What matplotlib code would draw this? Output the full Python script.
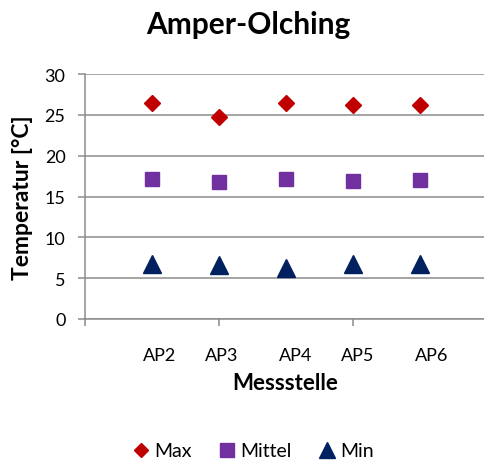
import matplotlib
matplotlib.use("Agg")
import matplotlib.pyplot as plt

plt.rcParams['font.family'] = ['Lato', 'DejaVu Sans']

categories = ["AP2", "AP3", "AP4", "AP5", "AP6"]
x_pos = [1, 2, 3, 4, 5]
label_pos = [1.12, 2.04, 3.15, 4.07, 5.18]
max_vals = [26.4, 24.7, 26.4, 26.2, 26.2]
mittel_vals = [17.2, 16.8, 17.1, 16.9, 17.0]
min_vals = [6.7, 6.6, 6.3, 6.7, 6.7]
y_ticks = [0, 5, 10, 15, 20, 25, 30]

W, H = 485, 464
fig = plt.figure(figsize=(W / 100, H / 100), dpi=100)
ax = fig.add_axes([85 / W, 1 - 320 / H, (487 - 85) / W, (320 - 75) / H])

grid_c = "#8c8c8c"
ax.set_xlim(0, 6)
ax.set_ylim(0, 30)
ax.set_yticks(y_ticks)
ax.yaxis.grid(True, color=grid_c, linewidth=1.1)
ax.set_axisbelow(True)
for s in ["top", "right"]:
    ax.spines[s].set_visible(False)
ax.spines["left"].set_color(grid_c)
ax.spines["bottom"].set_color(grid_c)
ax.spines["left"].set_linewidth(1.1)
ax.spines["bottom"].set_linewidth(1.1)
ax.spines["bottom"].set_zorder(0.5)

ax.set_xticks([0, 2, 4, 6])
ax.set_xticklabels([])
ax.tick_params(axis="x", which="major", length=5, color=grid_c, width=1.1)
ax.set_xticks(label_pos, minor=True)
ax.set_xticklabels(categories, minor=True)
ax.tick_params(axis="x", which="minor", length=0, pad=20, labelsize=13)
ax.tick_params(axis="y", length=5, color=grid_c, width=1.1, labelsize=13, pad=9)

ax.plot(x_pos, max_vals, linestyle="none", marker="D", markersize=8.3,
        color="#C00000", label="Max", clip_on=False)
ax.plot(x_pos, mittel_vals, linestyle="none", marker="s", markersize=10.5,
        color="#7030A0", label="Mittel", clip_on=False)
ax.plot(x_pos, min_vals, linestyle="none", marker="^", markersize=12.5,
        color="#002060", label="Min", clip_on=False)

fig.text(248 / W, 1 - 25 / H, "Amper-Olching", ha="center", va="center",
         fontsize=21.5, fontweight="bold")
fig.text(23 / W, 1 - 198 / H, "Temperatur [°C]", ha="center", va="center",
         rotation=90, fontsize=16.5, fontweight="bold")
fig.text(285 / W, 1 - 383 / H, "Messstelle", ha="center", va="center",
         fontsize=16, fontweight="bold")

leg = fig.legend(loc="center", bbox_to_anchor=(252 / W, 1 - 452 / H), ncol=3,
                 frameon=False, fontsize=14, handletextpad=0.1,
                 columnspacing=1.3, handlelength=1.1, markerscale=0.9)

fig.savefig("out.png", dpi=100)
